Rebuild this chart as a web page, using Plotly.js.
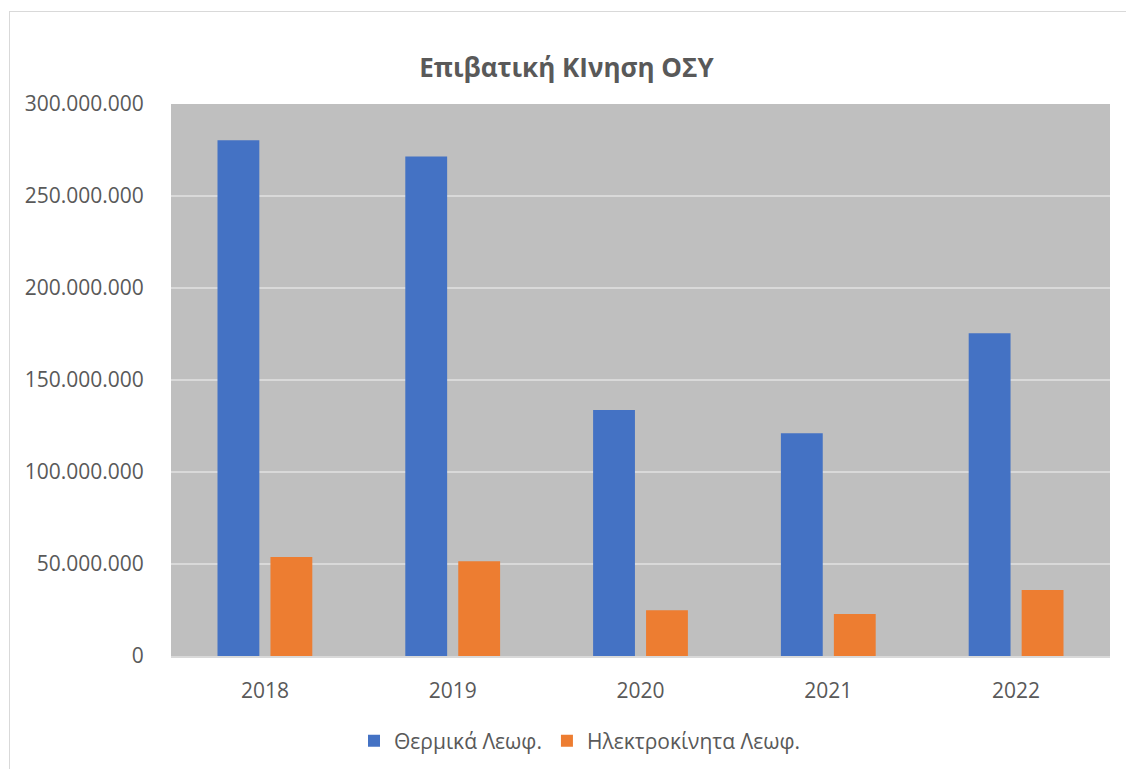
<!DOCTYPE html>
<html>
<head>
<meta charset="utf-8">
<script src="https://cdn.plot.ly/plotly-3.0.1.min.js"></script>
<style>
  html, body { margin: 0; padding: 0; background: #ffffff; overflow: hidden; }
  #frame { position: absolute; left: 9px; top: 11px; width: 1130px; height: 770px; border: 1px solid #D9D9D9; box-sizing: border-box; }
  #chart { position: absolute; left: 0; top: 0; width: 1126px; height: 769px; }
</style>
</head>
<body>
<div id="frame"></div>
<div id="chart"></div>
<script>
const years = ['2018', '2019', '2020', '2021', '2022'];
const thermal = [280300000, 271500000, 133700000, 121000000, 175400000];
const electric = [53800000, 51500000, 24800000, 22800000, 35900000];
const seriesNames = ['Θερμικά Λεωφ.', 'Ηλεκτροκίνητα Λεωφ.'];
const titleText = 'Επιβατική ΚΙνηση ΟΣΥ';

const font = 'Open Sans, Noto Sans, sans-serif';
const textColor = '#595959';

const traces = [
  { type: 'bar', x: years, y: thermal, name: seriesNames[0], marker: { color: '#4472C4', line: { width: 0 } }, hoverinfo: 'none' },
  { type: 'bar', x: years, y: electric, name: seriesNames[1], marker: { color: '#ED7D31', line: { width: 0 } }, hoverinfo: 'none' }
];

const layout = {
  width: 1126, height: 769,
  paper_bgcolor: 'rgba(0,0,0,0)',
  plot_bgcolor: '#BFBFBF',
  separators: ',.',
  margin: { l: 171, r: 16, t: 104, b: 113, autoexpand: false },
  barmode: 'group',
  bargap: 0.436,
  bargroupgap: 0.21,
  title: {
    text: '<b>' + titleText + '</b>',
    font: { family: font, size: 26, color: textColor },
    xref: 'container', x: 0.503, xanchor: 'center',
    yref: 'container', y: 1 - 68 / 769, yanchor: 'middle'
  },
  xaxis: {
    type: 'category',
    tickfont: { family: font, size: 21, color: textColor },
    ticks: 'outside', ticklen: 15, tickcolor: 'rgba(0,0,0,0)',
    showline: true, linecolor: '#D9D9D9', linewidth: 1.5,
    showgrid: false
  },
  yaxis: {
    range: [0, 300000000],
    dtick: 50000000,
    tickformat: ',d',
    tickfont: { family: font, size: 21, color: textColor },
    ticks: 'outside', ticklen: 22, tickcolor: 'rgba(0,0,0,0)',
    gridcolor: '#D9D9D9', gridwidth: 1.5,
    zeroline: false,
    showline: false
  },
  showlegend: true,
  legend: {
    orientation: 'h',
    x: (580 - 171) / 939, xanchor: 'center',
    y: (656 - 741) / 552, yanchor: 'middle',
    font: { family: font, size: 21, color: textColor },
    itemwidth: 30,
    traceorder: 'normal'
  }
};

Plotly.newPlot('chart', traces, layout, { displayModeBar: false, staticPlot: true });
</script>
</body>
</html>
